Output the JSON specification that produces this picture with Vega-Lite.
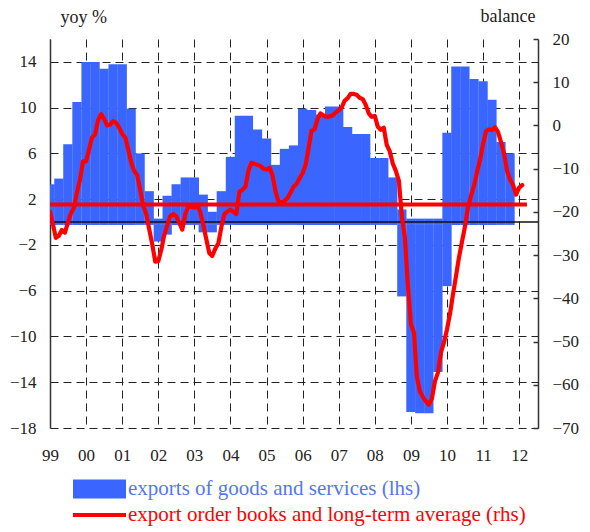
{
"$schema": "https://vega.github.io/schema/vega-lite/v6.json",
"width": 488, "height": 389,
"autosize": {"type": "none"},
"padding": {"left": 50, "top": 39, "right": 52, "bottom": 104},
"background": "white",
"config": {
  "font": "Liberation Serif",
  "view": {"stroke": null},
  "axis": {"labelFont": "Liberation Serif", "labelFontSize": 17, "labelColor": "#222", "titleFont": "Liberation Serif", "titleFontSize": 18, "titleFontWeight": "normal", "titleColor": "#222", "gridColor": "#222", "gridDash": [8, 5], "gridWidth": 1, "gridOpacity": 1, "domainColor": "#333", "domainWidth": 1.5}
},
"datasets": {
  "exports": [
    {"quarter": "1999-01-01", "value": 3.3}, {"quarter": "1999-04-01", "value": 3.8}, {"quarter": "1999-07-01", "value": 6.8}, {"quarter": "1999-10-01", "value": 10.5},
    {"quarter": "2000-01-01", "value": 14.0}, {"quarter": "2000-04-01", "value": 14.0}, {"quarter": "2000-07-01", "value": 13.4}, {"quarter": "2000-10-01", "value": 13.8},
    {"quarter": "2001-01-01", "value": 13.8}, {"quarter": "2001-04-01", "value": 9.9}, {"quarter": "2001-07-01", "value": 6.0}, {"quarter": "2001-10-01", "value": 2.7},
    {"quarter": "2002-01-01", "value": 0.3}, {"quarter": "2002-01-01", "value": -1.7}, {"quarter": "2002-04-01", "value": 2.3}, {"quarter": "2002-04-01", "value": -1.1}, {"quarter": "2002-07-01", "value": 3.3}, {"quarter": "2002-10-01", "value": 3.9},
    {"quarter": "2003-01-01", "value": 3.9}, {"quarter": "2003-04-01", "value": 2.4}, {"quarter": "2003-04-01", "value": -0.9}, {"quarter": "2003-07-01", "value": 0.9}, {"quarter": "2003-07-01", "value": -0.9}, {"quarter": "2003-10-01", "value": 2.7},
    {"quarter": "2004-01-01", "value": 5.7}, {"quarter": "2004-04-01", "value": 9.3}, {"quarter": "2004-07-01", "value": 9.3}, {"quarter": "2004-10-01", "value": 8.1},
    {"quarter": "2005-01-01", "value": 7.3}, {"quarter": "2005-04-01", "value": 5.0}, {"quarter": "2005-07-01", "value": 6.4}, {"quarter": "2005-10-01", "value": 6.7},
    {"quarter": "2006-01-01", "value": 9.9}, {"quarter": "2006-04-01", "value": 9.8}, {"quarter": "2006-07-01", "value": 9.4}, {"quarter": "2006-10-01", "value": 10.1},
    {"quarter": "2007-01-01", "value": 10.1}, {"quarter": "2007-04-01", "value": 8.3}, {"quarter": "2007-07-01", "value": 7.7}, {"quarter": "2007-10-01", "value": 7.7},
    {"quarter": "2008-01-01", "value": 5.6}, {"quarter": "2008-04-01", "value": 5.6}, {"quarter": "2008-07-01", "value": 3.9}, {"quarter": "2008-10-01", "value": 1.1}, {"quarter": "2008-10-01", "value": -6.5},
    {"quarter": "2009-01-01", "value": 0.3}, {"quarter": "2009-01-01", "value": -16.6}, {"quarter": "2009-04-01", "value": 0.3}, {"quarter": "2009-04-01", "value": -16.7}, {"quarter": "2009-07-01", "value": 0.3}, {"quarter": "2009-07-01", "value": -16.7}, {"quarter": "2009-10-01", "value": 0.3}, {"quarter": "2009-10-01", "value": -13.1},
    {"quarter": "2010-01-01", "value": 7.8}, {"quarter": "2010-01-01", "value": -5.6}, {"quarter": "2010-04-01", "value": 13.6}, {"quarter": "2010-07-01", "value": 13.6}, {"quarter": "2010-10-01", "value": 12.5},
    {"quarter": "2011-01-01", "value": 12.3}, {"quarter": "2011-04-01", "value": 10.7}, {"quarter": "2011-07-01", "value": 7.0}, {"quarter": "2011-10-01", "value": 6.0}
  ],
  "orders": [
    {"month": "1999-01-01", "balance": -20}, {"month": "1999-02-01", "balance": -23}, {"month": "1999-03-01", "balance": -26}, {"month": "1999-04-01", "balance": -25.5}, {"month": "1999-05-01", "balance": -24.2}, {"month": "1999-06-01", "balance": -24.8}, {"month": "1999-07-01", "balance": -22.5}, {"month": "1999-08-01", "balance": -20.3}, {"month": "1999-09-01", "balance": -19}, {"month": "1999-10-01", "balance": -15.5}, {"month": "1999-11-01", "balance": -12.5}, {"month": "1999-12-01", "balance": -8.3},
    {"month": "2000-01-01", "balance": -8.3}, {"month": "2000-02-01", "balance": -5.5}, {"month": "2000-03-01", "balance": -2.8}, {"month": "2000-04-01", "balance": -2.1}, {"month": "2000-05-01", "balance": 1.2}, {"month": "2000-06-01", "balance": 2.6}, {"month": "2000-07-01", "balance": 1.5}, {"month": "2000-08-01", "balance": 0}, {"month": "2000-09-01", "balance": 0.2}, {"month": "2000-10-01", "balance": 1.0}, {"month": "2000-11-01", "balance": 0.6}, {"month": "2000-12-01", "balance": -0.5},
    {"month": "2001-01-01", "balance": -2}, {"month": "2001-02-01", "balance": -2.8}, {"month": "2001-03-01", "balance": -5.4}, {"month": "2001-04-01", "balance": -8.5}, {"month": "2001-05-01", "balance": -10.5}, {"month": "2001-06-01", "balance": -11.5}, {"month": "2001-07-01", "balance": -14.8}, {"month": "2001-08-01", "balance": -18.5}, {"month": "2001-09-01", "balance": -20.5}, {"month": "2001-10-01", "balance": -24}, {"month": "2001-11-01", "balance": -27.5}, {"month": "2001-12-01", "balance": -31.5},
    {"month": "2002-01-01", "balance": -31.4}, {"month": "2002-02-01", "balance": -28.7}, {"month": "2002-03-01", "balance": -25.5}, {"month": "2002-04-01", "balance": -23.2}, {"month": "2002-05-01", "balance": -21}, {"month": "2002-06-01", "balance": -20.5}, {"month": "2002-07-01", "balance": -21}, {"month": "2002-08-01", "balance": -22.5}, {"month": "2002-09-01", "balance": -24.1}, {"month": "2002-10-01", "balance": -20.5}, {"month": "2002-11-01", "balance": -18.8}, {"month": "2002-12-01", "balance": -18.8},
    {"month": "2003-01-01", "balance": -19}, {"month": "2003-02-01", "balance": -18.4}, {"month": "2003-03-01", "balance": -20}, {"month": "2003-04-01", "balance": -23}, {"month": "2003-05-01", "balance": -26.2}, {"month": "2003-06-01", "balance": -29.5}, {"month": "2003-07-01", "balance": -30.2}, {"month": "2003-08-01", "balance": -28.5}, {"month": "2003-09-01", "balance": -27.3}, {"month": "2003-10-01", "balance": -23.5}, {"month": "2003-11-01", "balance": -20.5}, {"month": "2003-12-01", "balance": -19.9},
    {"month": "2004-01-01", "balance": -19.5}, {"month": "2004-02-01", "balance": -20}, {"month": "2004-03-01", "balance": -20.5}, {"month": "2004-04-01", "balance": -15.3}, {"month": "2004-05-01", "balance": -14.9}, {"month": "2004-06-01", "balance": -14.2}, {"month": "2004-07-01", "balance": -10.5}, {"month": "2004-08-01", "balance": -8.6}, {"month": "2004-09-01", "balance": -8.9}, {"month": "2004-10-01", "balance": -9.1}, {"month": "2004-11-01", "balance": -9.4}, {"month": "2004-12-01", "balance": -10},
    {"month": "2005-01-01", "balance": -10.2}, {"month": "2005-02-01", "balance": -9.8}, {"month": "2005-03-01", "balance": -11.5}, {"month": "2005-04-01", "balance": -15.2}, {"month": "2005-05-01", "balance": -17.6}, {"month": "2005-06-01", "balance": -17.9}, {"month": "2005-07-01", "balance": -17.5}, {"month": "2005-08-01", "balance": -16.8}, {"month": "2005-09-01", "balance": -15.5}, {"month": "2005-10-01", "balance": -14.2}, {"month": "2005-11-01", "balance": -13.5}, {"month": "2005-12-01", "balance": -12.2},
    {"month": "2006-01-01", "balance": -11}, {"month": "2006-02-01", "balance": -9}, {"month": "2006-03-01", "balance": -5.4}, {"month": "2006-04-01", "balance": -1.2}, {"month": "2006-05-01", "balance": -0.9}, {"month": "2006-06-01", "balance": 1.5}, {"month": "2006-07-01", "balance": 2.8}, {"month": "2006-08-01", "balance": 2.3}, {"month": "2006-09-01", "balance": 2}, {"month": "2006-10-01", "balance": 2.1}, {"month": "2006-11-01", "balance": 2.3}, {"month": "2006-12-01", "balance": 3},
    {"month": "2007-01-01", "balance": 3.5}, {"month": "2007-02-01", "balance": 4.2}, {"month": "2007-03-01", "balance": 5.7}, {"month": "2007-04-01", "balance": 6.3}, {"month": "2007-05-01", "balance": 7.3}, {"month": "2007-06-01", "balance": 7.3}, {"month": "2007-07-01", "balance": 7.1}, {"month": "2007-08-01", "balance": 6.4}, {"month": "2007-09-01", "balance": 6.1}, {"month": "2007-10-01", "balance": 4.8}, {"month": "2007-11-01", "balance": 2.8}, {"month": "2007-12-01", "balance": 2.0},
    {"month": "2008-01-01", "balance": 2.2}, {"month": "2008-02-01", "balance": -0.3}, {"month": "2008-03-01", "balance": -1}, {"month": "2008-04-01", "balance": -0.5}, {"month": "2008-05-01", "balance": -4.5}, {"month": "2008-06-01", "balance": -6}, {"month": "2008-07-01", "balance": -8.8}, {"month": "2008-08-01", "balance": -10.5}, {"month": "2008-09-01", "balance": -12.8}, {"month": "2008-10-01", "balance": -21}, {"month": "2008-11-01", "balance": -26}, {"month": "2008-12-01", "balance": -37},
    {"month": "2009-01-01", "balance": -46}, {"month": "2009-02-01", "balance": -48}, {"month": "2009-03-01", "balance": -58}, {"month": "2009-04-01", "balance": -61.5}, {"month": "2009-05-01", "balance": -62.8}, {"month": "2009-06-01", "balance": -63.8}, {"month": "2009-07-01", "balance": -64.6}, {"month": "2009-08-01", "balance": -63.2}, {"month": "2009-09-01", "balance": -59.2}, {"month": "2009-10-01", "balance": -57.2}, {"month": "2009-11-01", "balance": -52.6}, {"month": "2009-12-01", "balance": -50.2},
    {"month": "2010-01-01", "balance": -47.2}, {"month": "2010-02-01", "balance": -43.5}, {"month": "2010-03-01", "balance": -39.3}, {"month": "2010-04-01", "balance": -35}, {"month": "2010-05-01", "balance": -30.7}, {"month": "2010-06-01", "balance": -27}, {"month": "2010-07-01", "balance": -23.5}, {"month": "2010-08-01", "balance": -19}, {"month": "2010-09-01", "balance": -16.3}, {"month": "2010-10-01", "balance": -14}, {"month": "2010-11-01", "balance": -10.8}, {"month": "2010-12-01", "balance": -8},
    {"month": "2011-01-01", "balance": -4.3}, {"month": "2011-02-01", "balance": -1.3}, {"month": "2011-03-01", "balance": -0.9}, {"month": "2011-04-01", "balance": -1.1}, {"month": "2011-05-01", "balance": -0.4}, {"month": "2011-06-01", "balance": -1.5}, {"month": "2011-07-01", "balance": -3.8}, {"month": "2011-08-01", "balance": -6.5}, {"month": "2011-09-01", "balance": -10.5}, {"month": "2011-10-01", "balance": -12.5}, {"month": "2011-11-01", "balance": -13.8}, {"month": "2011-12-01", "balance": -16},
    {"month": "2012-01-01", "balance": -14.4}, {"month": "2012-02-01", "balance": -13.8}
  ]
},
"layer": [
  {"layer": [
    {"data": {"name": "exports"},
     "mark": {"type": "bar", "width": 9.3, "clip": true},
     "encoding": {
       "x": {"field": "quarter", "type": "temporal",
             "scale": {"type": "utc", "padding": 0, "domain": [{"year": 1999, "month": 1, "date": 1, "utc": true}, {"year": 2012, "month": 7, "date": 10, "utc": true}]},
             "axis": {"format": "%y", "tickCount": {"interval": "year", "step": 1}, "grid": true, "domain": false, "ticks": false, "labelPadding": 19, "labelOverlap": false, "labelFlush": false, "title": null}},
       "y": {"field": "value", "type": "quantitative",
             "scale": {"domain": [-18, 16], "nice": false, "zero": false},
             "axis": {"orient": "left", "values": [-18, -14, -10, -6, -2, 2, 6, 10, 14], "grid": true, "ticks": false, "domain": true, "labelPadding": 14, "title": "yoy %", "titleAngle": 0, "titleAlign": "left", "titleBaseline": "alphabetic", "titleX": 10, "titleY": -17}},
       "y2": {"datum": -0.25},
       "color": {"datum": "exports of goods and services (lhs)",
                 "scale": {"domain": ["exports of goods and services (lhs)", "export order books and long-term average (rhs)"], "range": ["#3a66ff", "#ff0000"]},
                 "legend": {"orient": "none", "legendX": 23, "legendY": 438, "direction": "vertical", "title": null, "symbolSize": 2809, "clipHeight": 24, "rowPadding": 2, "labelLimit": 600, "labelFontSize": 21, "labelFont": "Liberation Serif", "labelOffset": 2, "symbolStrokeWidth": 0, "padding": 0,
                   "encode": {
                     "symbols": {"update": {"shape": {"signal": "datum.value === 'exports of goods and services (lhs)' ? 'M-1,-0.36H1V0.36H-1Z' : 'M-1,-0.075H1V0.075H-1Z'"}, "fill": {"signal": "datum.value === 'exports of goods and services (lhs)' ? '#3a66ff' : '#ff0000'"}, "strokeWidth": {"value": 0}, "opacity": {"value": 1}}},
                     "labels": {"update": {"fill": {"signal": "datum.value === 'exports of goods and services (lhs)' ? '#5577ee' : '#ff0000'"}}}
                   }}}
     }},
    {"data": {"values": [{}]},
     "mark": {"type": "rule", "color": "#111", "strokeWidth": 1.5},
     "encoding": {"y": {"datum": 0}}}
  ]},
  {"layer": [
    {"data": {"values": [{"from": "1999-01-01", "to": "2012-03-20", "avg": -18.3}]},
     "mark": {"type": "rule", "color": "#ff0000", "strokeWidth": 4},
     "encoding": {"x": {"field": "from", "type": "temporal"}, "x2": {"field": "to"}, "y": {"field": "avg", "type": "quantitative"}}},
    {"data": {"name": "orders"},
     "mark": {"type": "line", "strokeWidth": 4.2, "strokeJoin": "round", "strokeCap": "round", "clip": true},
     "encoding": {
       "x": {"field": "month", "type": "temporal"},
       "y": {"field": "balance", "type": "quantitative",
             "scale": {"domain": [-70, 20], "nice": false, "zero": false},
             "axis": {"orient": "right", "values": [-70, -60, -50, -40, -30, -20, -10, 0, 10, 20], "grid": false, "ticks": true, "tickSize": -5, "tickColor": "#333", "tickWidth": 1.5, "domain": true, "labelPadding": 19, "title": "balance", "titleAngle": 0, "titleAlign": "right", "titleBaseline": "alphabetic", "titleX": -3, "titleY": -18}},
       "color": {"datum": "export order books and long-term average (rhs)"}
     }}
  ]}
],
"resolve": {"scale": {"y": "independent"}}
}
